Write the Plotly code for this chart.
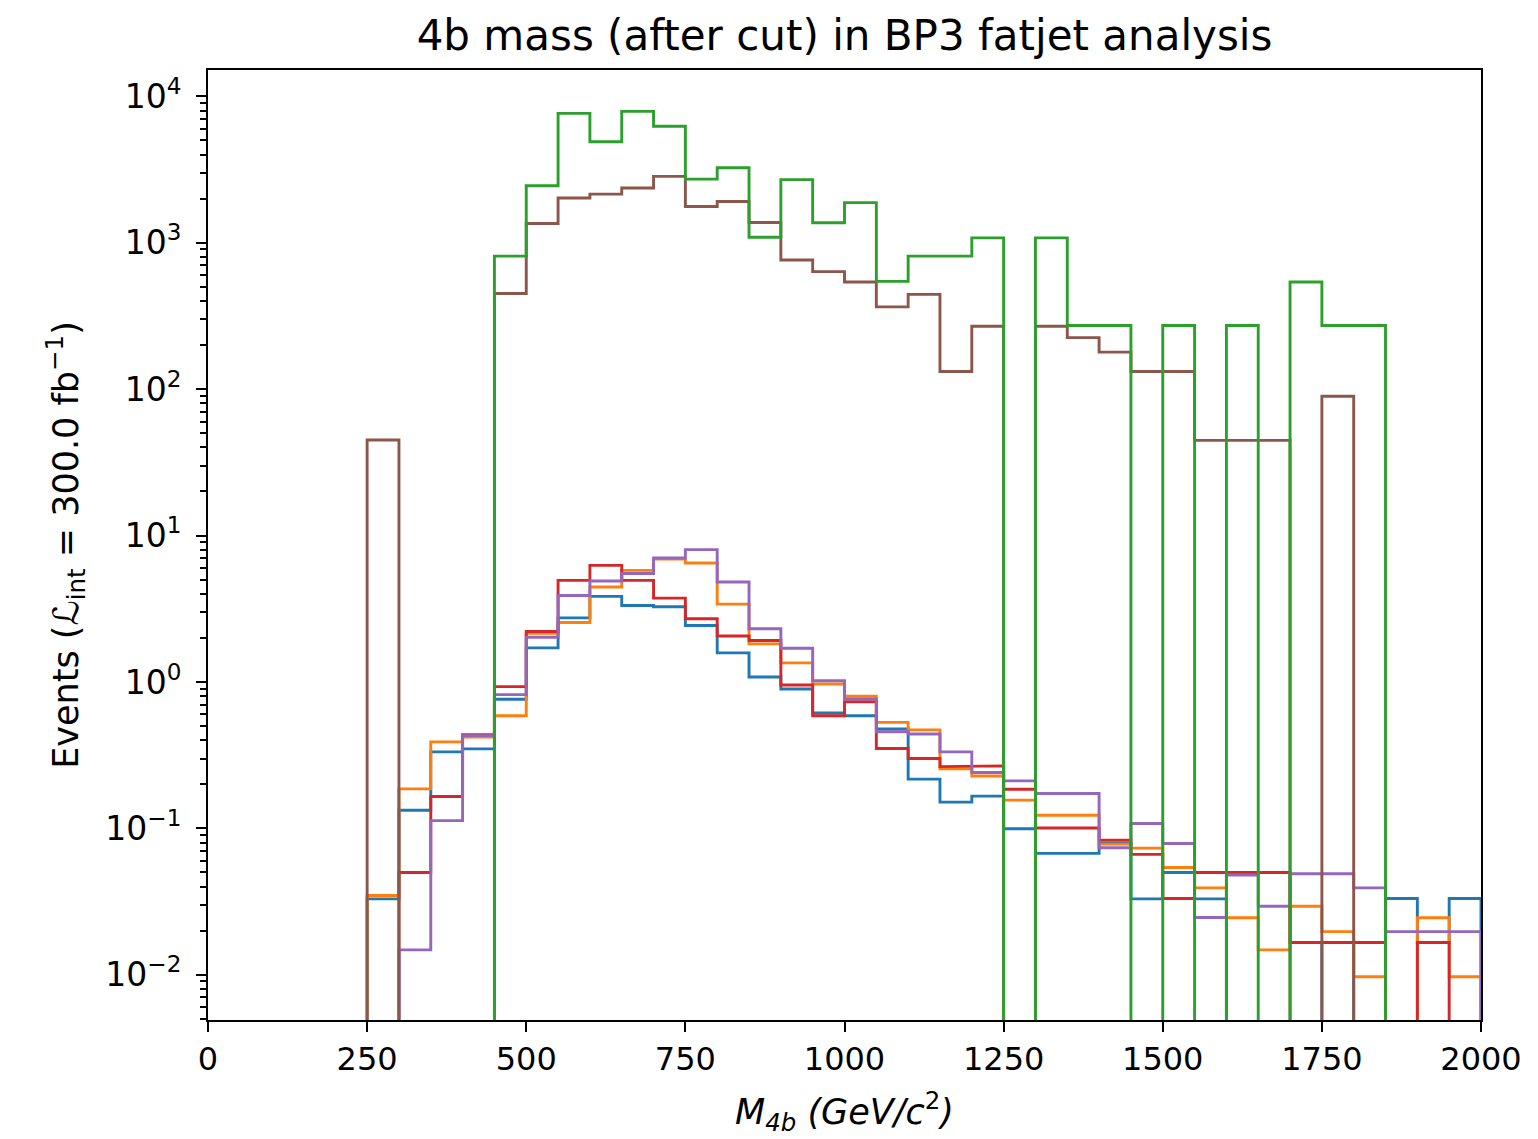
import plotly.graph_objects as go

# ---- data (bin edges 0..2000 GeV, 50 GeV bins) ----
bin_width = 50
n_bins = 40
bin_edges = [i * bin_width for i in range(n_bins + 1)]

blue = [0, 0, 0, 0, 0, 0.033, 0.133, 0.333, 0.349, 0.761,
        1.71, 2.74, 3.84, 3.33, 3.26, 2.43, 1.58, 1.08, 0.895, 0.613,
        0.588, 0.477, 0.217, 0.151, 0.166, 0.0995, 0.0675, 0.0675, 0.079, 0.033,
        0.050, 0.033, 0, 0, 0, 0.0166, 0, 0.0332, 0.0166, 0.0332]

orange = [0, 0, 0, 0, 0, 0.0348, 0.186, 0.390, 0.42, 0.588,
          2.15, 2.55, 4.45, 5.78, 6.9, 6.50, 3.40, 1.82, 1.35, 0.969,
          0.798, 0.530, 0.471, 0.255, 0.228, 0.156, 0.123, 0.123, 0.078, 0.0733,
          0.054, 0.0392, 0.0245, 0.0148, 0.0294, 0.0197, 0.0097, 0, 0.0245, 0.0097]

green = [0, 0, 0, 0, 0, 0, 0, 0, 0, 810,
         2450, 7650, 4900, 7900, 6250, 2720, 3250, 1090, 2700, 1370,
         1880, 545, 810, 810, 1080, 0, 1080, 272, 272, 0,
         272, 0, 272, 0, 540, 272, 272, 0, 0, 0]

red = [0, 0, 0, 0, 0, 0, 0.050, 0.165, 0.436, 0.929,
       2.21, 4.94, 6.26, 4.94, 3.74, 2.70, 2.06, 1.92, 0.954, 0.588,
       0.733, 0.351, 0.300, 0.264, 0.267, 0.185, 0.1005, 0.1005, 0.083, 0.0664,
       0.0332, 0.050, 0.050, 0.050, 0.0166, 0.0166, 0.0166, 0, 0.0166, 0]

purple = [0, 0, 0, 0, 0, 0, 0.0148, 0.113, 0.43, 0.819,
          2.02, 3.90, 4.89, 5.50, 7.03, 8.02, 4.82, 2.31, 1.70, 1.02,
          0.765, 0.457, 0.441, 0.333, 0.241, 0.211, 0.173, 0.173, 0.0738, 0.108,
          0.0789, 0.0246, 0.048, 0.0294, 0.049, 0.049, 0.0392, 0.0197, 0.0197, 0.0197]

brown = [0, 0, 0, 0, 0, 45, 0, 0, 0, 450,
         1355, 2020, 2150, 2365, 2840, 1770, 1915, 1375, 763, 635,
         540, 365, 444, 132, 269, 0, 269, 225, 179, 132,
         132, 44.7, 44.7, 44.7, 0, 89.4, 0, 0, 0, 0]

y_tick_vals = [1e-2, 1e-1, 1e0, 1e1, 1e2, 1e3, 1e4]
y_tick_text = ["10<sup>−2</sup>", "10<sup>−1</sup>", "10<sup>0</sup>", "10<sup>1</sup>",
               "10<sup>2</sup>", "10<sup>3</sup>", "10<sup>4</sup>"]
x_tick_vals = [0, 250, 500, 750, 1000, 1250, 1500, 1750, 2000]

series = [
    ("blue", blue, "#1f77b4"),
    ("orange", orange, "#ff7f0e"),
    ("red", red, "#d62728"),
    ("purple", purple, "#9467bd"),
    ("brown", brown, "#8c564b"),
    ("green", green, "#2ca02c"),
]

FLOOR = 1e-5  # below the visible log range: zero bins drop out of the frame


def step_outline(values):
    xs, ys = [bin_edges[0]], [FLOOR]
    for i, v in enumerate(values):
        vv = v if v > 0 else FLOOR
        xs += [bin_edges[i], bin_edges[i + 1]]
        ys += [vv, vv]
    xs.append(bin_edges[-1])
    ys.append(FLOOR)
    return xs, ys


fig = go.Figure()
for name, vals, color in series:
    xs, ys = step_outline(vals)
    fig.add_trace(go.Scatter(x=xs, y=ys, mode="lines", name=name,
                             line=dict(color=color, width=2.9),
                             showlegend=False, hoverinfo="skip"))

font_family = "DejaVu Sans"
fig.update_layout(
    width=1538, height=1139,
    margin=dict(l=208, r=57, t=70, b=119, autoexpand=False),
    paper_bgcolor="white", plot_bgcolor="white",
    font=dict(family=font_family, color="black", size=32),
    title=dict(text="4b mass (after cut) in BP3 fatjet analysis",
               x=(208 + 1481) / 2 / 1538, xanchor="center",
               y=1 - 35 / 1139, yanchor="middle", yref="container",
               font=dict(size=42, family=font_family)),
)

fig.update_xaxes(
    range=[0, 2000], tickvals=x_tick_vals,
    showgrid=False, zeroline=False,
    showline=True, mirror=True, linecolor="black", linewidth=2,
    ticks="outside", ticklen=10, tickwidth=2, tickcolor="black",
    tickfont=dict(size=32),
    title=dict(text="<i>M</i><sub><i>4b</i></sub> <i>(GeV/c</i><sup>2</sup><i>)</i>",
               font=dict(size=35), standoff=22),
    automargin=False,
)

fig.update_yaxes(
    type="log", range=[-2.309, 4.18],
    tickvals=y_tick_vals, ticktext=y_tick_text,
    showgrid=False, zeroline=False,
    showline=True, mirror=True, linecolor="black", linewidth=2,
    ticks="outside", ticklen=10, tickwidth=2, tickcolor="black",
    tickfont=dict(size=33), ticklabelstandoff=8,
    minor=dict(ticks="outside", ticklen=6, tickwidth=1.5, tickcolor="black",
               dtick="D1", showgrid=False),
    title=dict(text="Events (<i>ℒ</i><sub>int</sub> = 300.0 fb<sup>−1</sup>)",
               font=dict(size=35), standoff=16),
    automargin=False,
)

fig.write_html("out.html")
